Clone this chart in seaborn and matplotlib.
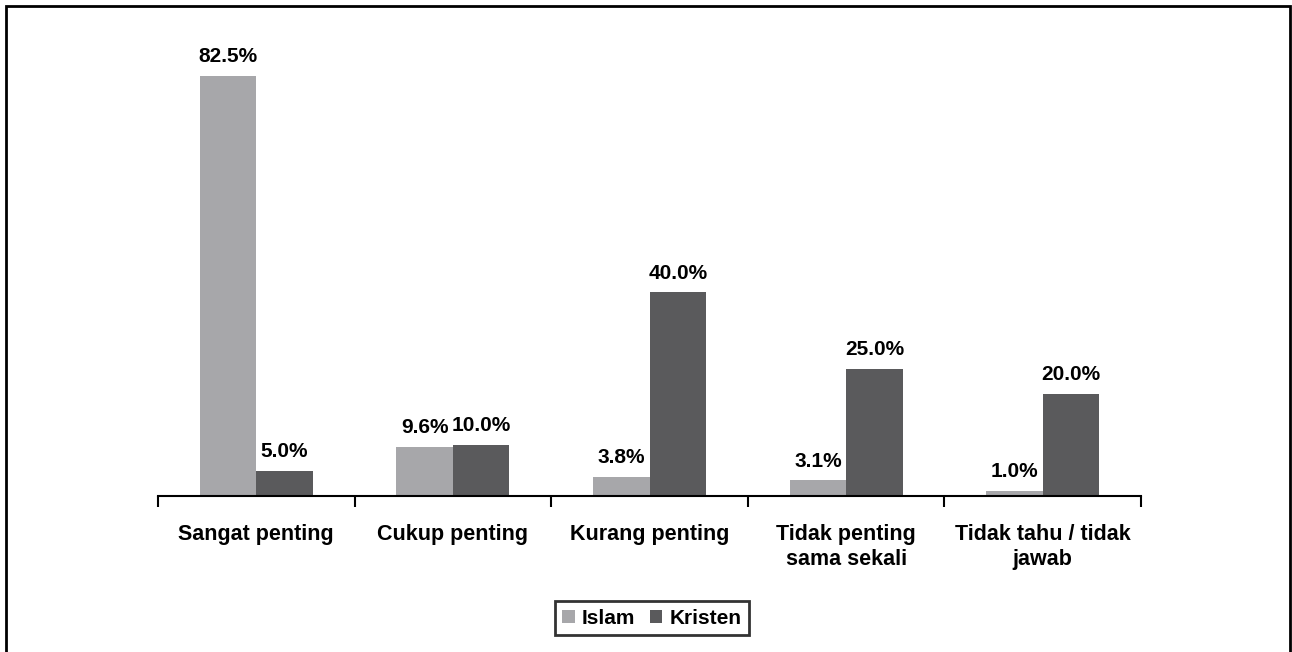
import numpy as np
import pandas as pd
import matplotlib
matplotlib.use("Agg")
import matplotlib.pyplot as plt
from matplotlib.patches import Rectangle
import seaborn as sns

# data
categories = ["Sangat penting", "Cukup penting", "Kurang penting",
              "Tidak penting\nsama sekali", "Tidak tahu / tidak\njawab"]
islam = [82.5, 9.6, 3.8, 3.1, 1.0]
kristen = [5.0, 10.0, 40.0, 25.0, 20.0]
groups = ["Islam", "Kristen"]
colors = ["#a7a7aa", "#5a5a5c"]

df = pd.DataFrame({
    "kategori": categories * 2,
    "agama": ["Islam"] * len(categories) + ["Kristen"] * len(categories),
    "persen": islam + kristen,
})

sns.set_style("white")
plt.rcParams["font.family"] = ["Liberation Sans", "DejaVu Sans"]
plt.rcParams["font.weight"] = "bold"
plt.rcParams["text.color"] = "black"
plt.rcParams["xtick.color"] = "black"

fig = plt.figure(figsize=(12.92, 6.52), dpi=100)
ax = fig.add_axes([158 / 1292, 1 - 496 / 652, (1141 - 158) / 1292, 458 / 652])

sns.barplot(data=df, x="kategori", y="persen", hue="agama", hue_order=groups,
            palette=colors, width=0.575, gap=0, saturation=1, ax=ax,
            edgecolor="none", legend=True)

for c in ax.containers:
    ax.bar_label(c, fmt="%.1f%%", padding=7, fontsize=15, fontweight="bold",
                 color="black")

ax.set_ylim(0, 90)
ax.set_xlim(-0.5, len(categories) - 0.5)
ax.set_xlabel("")
ax.set_ylabel("")
ax.set_yticks([])

# ticks at category borders, labels at centres
ax.set_xticks(np.arange(len(categories) + 1) - 0.5)
ax.set_xticklabels([])
ax.set_xticks(np.arange(len(categories)), minor=True)
ax.set_xticklabels(categories, minor=True, fontsize=15.5, fontweight="bold",
                   linespacing=1.25, color="black")
ax.tick_params(axis="x", which="major", length=8, width=1.5, color="black",
               direction="out", bottom=True)
ax.tick_params(axis="x", which="minor", length=0, pad=20)

for s in ["top", "right", "left"]:
    ax.spines[s].set_visible(False)
ax.spines["bottom"].set_color("black")
ax.spines["bottom"].set_linewidth(1.5)

ax.legend(loc="center", bbox_to_anchor=(652 / 1292, 1 - 618 / 652),
          bbox_transform=fig.transFigure, ncol=2, frameon=True, fancybox=False,
          edgecolor="black", handlelength=0.6, handleheight=0.6,
          handletextpad=0.35, columnspacing=0.7, borderpad=0.35,
          prop={"size": 15, "weight": "bold"})
ax.get_legend().get_frame().set_linewidth(2)

# outer border
fig.patches.append(Rectangle((6 / 1292, -0.02), (1290 - 6) / 1292, 1.02 - 6 / 652,
                             transform=fig.transFigure, fill=False,
                             edgecolor="black", linewidth=2))

fig.savefig("out.png", dpi=100)
